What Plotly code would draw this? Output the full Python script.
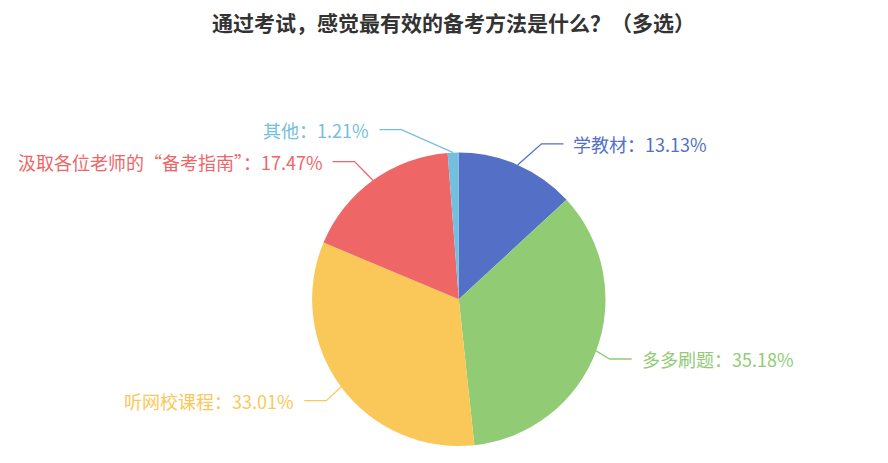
import math
import plotly.graph_objects as go

title_text = "通过考试，感觉最有效的备考方法是什么？（多选）"
categories = ["学教材", "多多刷题", "听网校课程", "汲取各位老师的“备考指南”", "其他"]
values = [13.13, 35.18, 33.01, 17.47, 1.21]
colors = ["#5470c6", "#91cc75", "#fac858", "#ee6666", "#73c0de"]

W, H = 888, 463
OFF = 8  # page body margin: the figure is drawn 8px right/down of the page origin
cx, cy, r = 458.8 - OFF, 299.3 - OFF, 146.7  # pie centre and radius (figure pixels)

def px(x):
    return x / W

def py(y):
    return 1 - y / H

fig = go.Figure()
fig.add_trace(go.Pie(
    labels=categories,
    values=values,
    marker=dict(colors=colors, line=dict(width=0)),
    sort=False,
    direction="clockwise",
    rotation=0,
    textinfo="none",
    hoverinfo="skip",
    showlegend=False,
    domain=dict(x=[px(cx - r), px(cx + r)], y=[py(cy + r), py(cy - r)]),
))

# label lines and labels, positioned from the data angles
total = sum(values)
R = r + 23
ea, eb = r + 13, r + 35
seg2, gap = 22, 8
shapes = []
annotations = []
cum = 0.0
for cat, val, col in zip(categories, values, colors):
    mid = (cum + val / 2) / total * 2 * math.pi
    cum += val
    sx = cx + r * math.sin(mid)
    sy = cy - r * math.cos(mid)
    by = cy - R * math.cos(mid)
    sign = 1 if math.sin(mid) >= 0 else -1
    bx = cx + sign * ea * math.sqrt(max(0.0, 1 - ((by - cy) / eb) ** 2))
    ex = bx + sign * seg2
    path = f"M {px(sx)},{py(sy)} L {px(bx)},{py(by)} L {px(ex)},{py(by)}"
    shapes.append(dict(type="path", xref="paper", yref="paper", path=path,
                       line=dict(color=col, width=1.3)))
    annotations.append(dict(
        x=px(ex + sign * gap), y=py(by), xref="paper", yref="paper",
        text=f"{cat}：{val:.2f}%", showarrow=False,
        xanchor="left" if sign > 0 else "right", yanchor="middle",
        font=dict(size=18, color=col, family="Noto Sans CJK SC"),
    ))

annotations.append(dict(
    x=px(453 - OFF), y=py(22 - OFF), xref="paper", yref="paper",
    text=f"<b>{title_text}</b>",
    showarrow=False, xanchor="center", yanchor="middle",
    font=dict(size=21, color="#333333", family="Noto Sans CJK SC"),
))

fig.update_layout(
    width=W, height=H,
    margin=dict(l=0, r=0, t=0, b=0),
    paper_bgcolor="white", plot_bgcolor="white",
    shapes=shapes, annotations=annotations,
    font=dict(family="Noto Sans CJK SC"),
)

fig.write_html("out.html")
